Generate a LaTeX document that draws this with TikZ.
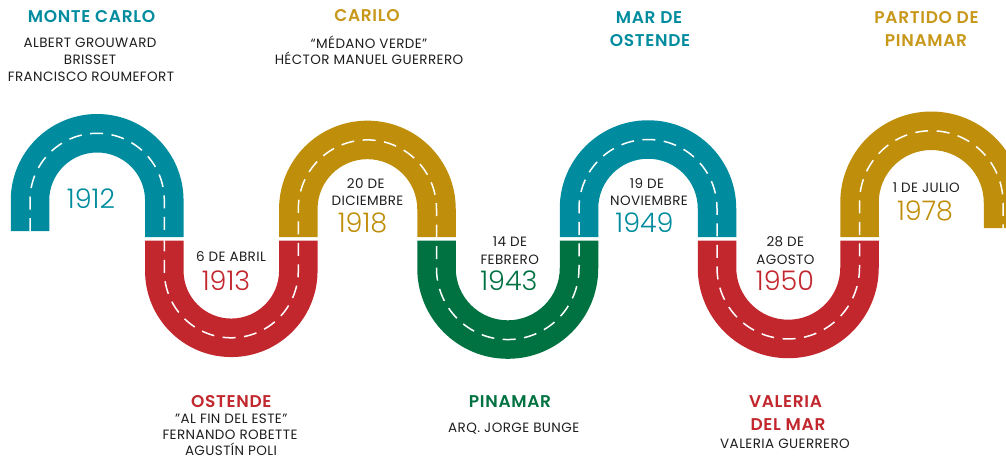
\documentclass[tikz,border=0pt]{standalone}
\usepackage{fontspec}
\setmainfont{Poppins}[BoldFont={Poppins SemiBold}]
\newfontfamily\lightfont{Poppins Light}
\definecolor{cteal}{RGB}{0,140,158}
\definecolor{cred}{RGB}{193,39,45}
\definecolor{cgold}{RGB}{191,142,10}
\definecolor{cgreen}{RGB}{0,114,66}
\definecolor{tgold}{RGB}{200,152,26}
\definecolor{ink}{RGB}{30,30,30}
\newcommand\archtop[6]{% color, cx, cy, Rm, yend left, yend right
  \fill[#1] ({#2-#4-19.25},-#5) -- ({#2-#4-19.25},-#3)
    arc[start angle=180,end angle=0,radius={#4+19.25}]
    -- ({#2+#4+19.25},-#6) -- ({#2+#4-19.25},-#6) -- ({#2+#4-19.25},-#3)
    arc[start angle=0,end angle=180,radius={#4-19.25}]
    -- ({#2-#4+19.25},-#5) -- cycle;}
\newcommand\archbot[5]{% color, cx, cy, Rm, ystart
  \fill[#1] ({#2-#4-19.25},-#5) -- ({#2-#4-19.25},-#3)
    arc[start angle=180,end angle=360,radius={#4+19.25}]
    -- ({#2+#4+19.25},-#5) -- ({#2+#4-19.25},-#5) -- ({#2+#4-19.25},-#3)
    arc[start angle=360,end angle=180,radius={#4-19.25}]
    -- ({#2-#4+19.25},-#5) -- cycle;}
\begin{document}
\begin{tikzpicture}[x=1pt,y=1pt,
  lbl/.style={inner sep=0, anchor=base, text=ink, font=\fontsize{13.5}{15}\selectfont\addfontfeatures{LetterSpace=3}},
  ttl/.style={inner sep=0, anchor=base, font=\fontsize{17}{19}\bfseries\addfontfeatures{LetterSpace=4}},
  yr/.style={inner sep=0, anchor=base, font=\fontsize{27}{30}\lightfont},
  centerline/.style={white, line width=1.5pt, dash pattern=on 13pt off 8.5pt}]
\useasboundingbox (0,0) rectangle (1006,-459);
\clip (0,0) rectangle (1006,-459);
% road segments
\archtop{cteal}{97.15}{200.4}{67.15}{231}{237}
\archbot{cred}{231.3}{270.8}{67}{240.5}
\archtop{cgold}{367.4}{209}{69.1}{237}{237}
\archbot{cgreen}{507.75}{268.3}{71.25}{240.5}
\archtop{cteal}{648}{208.5}{69}{237}{237}
\archbot{cred}{788.25}{267.7}{71.25}{240.5}
\archtop{cgold}{931.25}{202.5}{71.75}{237}{228}
% dashed centre line
\coordinate (s) at (30,-231);
\coordinate (e) at (1003,-228);
\draw[centerline] (s) -- (30,-200.4)
  arc[start angle=180,end angle=0,radius=67.15] -- (164.3,-270.8)
  arc[start angle=180,end angle=360,radius=67] -- (298.3,-209)
  arc[start angle=180,end angle=0,radius=69.1] -- (436.5,-268.3)
  arc[start angle=180,end angle=360,radius=71.25] -- (579,-208.5)
  arc[start angle=180,end angle=0,radius=69] -- (717,-267.7)
  arc[start angle=180,end angle=360,radius=71.25] -- (859.5,-202.5)
  arc[start angle=180,end angle=0,radius=71.75] -- (e);
% top labels
\node[ttl,text=cteal] (t1) at (91.5,-22) {MONTE CARLO};
\node[lbl] (t1a) at (90,-47.7) {ALBERT GROUWARD};
\node[lbl] (t1b) at (90,-64.3) {BRISSET};
\node[lbl] (t1c) at (91,-81) {FRANCISCO ROUMEFORT};
\node[ttl,text=tgold] (t3) at (367,-21.7) {CARILO};
\node[lbl] (t3a) at (369,-48.3) {“MÉDANO VERDE”};
\node[lbl] (t3b) at (369,-64.3) {HÉCTOR MANUEL GUERRERO};
\node[ttl,text=cteal] (t5a) at (649,-23.3) {MAR DE};
\node[ttl,text=cteal] (t5b) at (650,-46) {OSTENDE};
\node[ttl,text=tgold] (t7a) at (926.5,-23.3) {PARTIDO DE};
\node[ttl,text=tgold] (t7b) at (926,-46) {PINAMAR};
% bottom labels
\node[ttl,text=cred] (b2) at (231.3,-407.2) {OSTENDE};
\node[lbl] (b2a) at (231.3,-423.6) {"AL FIN DEL ESTE"};
\node[lbl] (b2b) at (230,-439.8) {FERNANDO ROBETTE};
\node[lbl] (b2c) at (231,-455.6) {AGUSTÍN POLI};
\node[ttl,text=cgreen] (b4) at (510,-407.7) {PINAMAR};
\node[lbl] (b4a) at (513.7,-432.3) {ARQ. JORGE BUNGE};
\node[ttl,text=cred] (b6a) at (785.5,-407.7) {VALERIA};
\node[ttl,text=cred] (b6b) at (788,-430) {DEL MAR};
\node[lbl] (b6c) at (785,-448.3) {VALERIA GUERRERO};
% dates inside arches
\node[yr,text=cteal] (y1) at (91,-208) {1912};
\node[lbl] (d2) at (231,-261.7) {6 DE ABRIL};
\node[yr,text=cred] (y2) at (226,-290) {1913};
\node[lbl] (d3a) at (365.7,-188.3) {20 DE};
\node[lbl] (d3b) at (367.5,-205.7) {DICIEMBRE};
\node[yr,text=cgold] (y3) at (362.5,-232.3) {1918};
\node[lbl] (d4a) at (510,-246.7) {14 DE};
\node[lbl] (d4b) at (509.7,-264) {FEBRERO};
\node[yr,text=cgreen] (y4) at (508.8,-290) {1943};
\node[lbl] (d5a) at (647,-188.3) {19 DE};
\node[lbl] (d5b) at (649,-205.7) {NOVIEMBRE};
\node[yr,text=cteal] (y5) at (644.5,-232.3) {1949};
\node[lbl] (d6a) at (785.3,-246.7) {28 DE};
\node[lbl] (d6b) at (785.5,-264) {AGOSTO};
\node[yr,text=cred] (y6) at (785,-290) {1950};
\node[lbl] (d7) at (926.3,-192.7) {1 DE JULIO};
\node[yr,text=cgold] (y7) at (925,-220) {1978};
\end{tikzpicture}
\end{document}
